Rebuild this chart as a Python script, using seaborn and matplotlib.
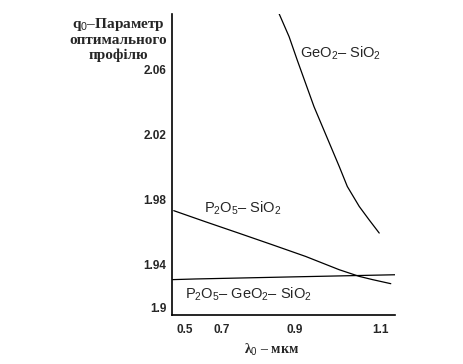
import numpy as np
import pandas as pd
import seaborn as sns
import matplotlib.pyplot as plt

# curve data (wavelength in um, optimal profile parameter q0)
geo2_x = [0.859, 0.888, 0.911, 0.935, 0.959, 0.983, 1.007, 1.031, 1.054, 1.088, 1.116, 1.145]
geo2_q = [2.0949, 2.0805, 2.0662, 2.0518, 2.0374, 2.0251, 2.0128, 2.0005, 1.9882, 1.9759,
          1.9677, 1.9595]

p2o5_x = [0.559, 0.649, 0.745, 0.840, 0.935, 1.031, 1.088, 1.126, 1.178]
p2o5_q = [1.9733, 1.9665, 1.9594, 1.9523, 1.9451, 1.9369, 1.9328, 1.9308, 1.9283]

mix_x = [0.556, 0.620, 0.900, 1.190]
mix_q = [1.9308, 1.9312, 1.9325, 1.9338]

ytick_pos = [1.9135, 1.94, 1.98, 2.02, 2.06]
ytick_lab = ["1.9", "1.94", "1.98", "2.02", "2.06"]
xtick_pos = [0.7, 0.9, 1.1]
xlab_pos = [0.591, 0.697, 0.903, 1.149]
xlab_txt = ["0.5", "0.7", "0.9", "1.1"]

sns.set_style("white")
plt.rcParams["font.family"] = ["Liberation Sans", "DejaVu Sans"]
plt.rcParams["mathtext.fontset"] = "custom"
plt.rcParams["mathtext.rm"] = "Liberation Sans"
plt.rcParams["mathtext.it"] = "Liberation Sans"
plt.rcParams["mathtext.bf"] = "Liberation Sans:bold"

fig = plt.figure(figsize=(4.64, 3.64), dpi=100)
ax = fig.add_axes([172 / 464, 49 / 364, 223 / 464, 301 / 364])

df = pd.concat([
    pd.DataFrame({"x": geo2_x, "q": geo2_q, "s": "geo2"}),
    pd.DataFrame({"x": p2o5_x, "q": p2o5_q, "s": "p2o5"}),
    pd.DataFrame({"x": mix_x, "q": mix_q, "s": "mix"}),
])
sns.lineplot(data=df, x="x", y="q", units="s", estimator=None, sort=False,
             color="black", lw=0.9, ax=ax)

ax.set_xlim(0.554, 1.19)
ax.set_ylim(1.909, 2.0945)
ax.set_yticks(ytick_pos, ytick_lab)
ax.set_xticks(xtick_pos, [""] * len(xtick_pos))
ax.tick_params(direction="in", length=4, width=1, labelsize=8.5, pad=4)
for lab in ax.get_yticklabels():
    lab.set_fontweight("bold")

# x labels sit a little apart from the tick marks in the original
for xp, t in zip(xlab_pos, xlab_txt):
    ax.text(xp, -0.03, t, transform=ax.get_xaxis_transform(), fontsize=8.5,
            fontweight="bold", ha="center", va="top")

sns.despine(ax=ax)
for sp in ["left", "bottom"]:
    ax.spines[sp].set_linewidth(1.2)
    ax.spines[sp].set_color("black")

ax.set_xlabel("")
ax.set_ylabel("")

ax.text(0.92, 2.0705, r"GeO$_2$– SiO$_2$", fontsize=10.5, va="center")
ax.text(0.646, 1.975, r"P$_2$O$_5$– SiO$_2$", fontsize=10.5, va="center")
ax.text(0.591, 1.9215, r"P$_2$O$_5$– GeO$_2$– SiO$_2$", fontsize=10.5, va="center")

fig.text(118 / 464, 1 - 39 / 364, "q$_0$–Параметр\nоптимального\nпрофілю",
         ha="center", va="center", fontsize=11, fontweight="bold",
         family=["Liberation Serif", "DejaVu Serif"], linespacing=1.1)
fig.text(272 / 464, 1 - 350 / 364, "λ$_0$ – мкм", ha="center", va="center",
         fontsize=10, fontweight="bold", family=["Liberation Serif", "DejaVu Serif"])

fig.savefig("out.png", dpi=100, facecolor="white")
